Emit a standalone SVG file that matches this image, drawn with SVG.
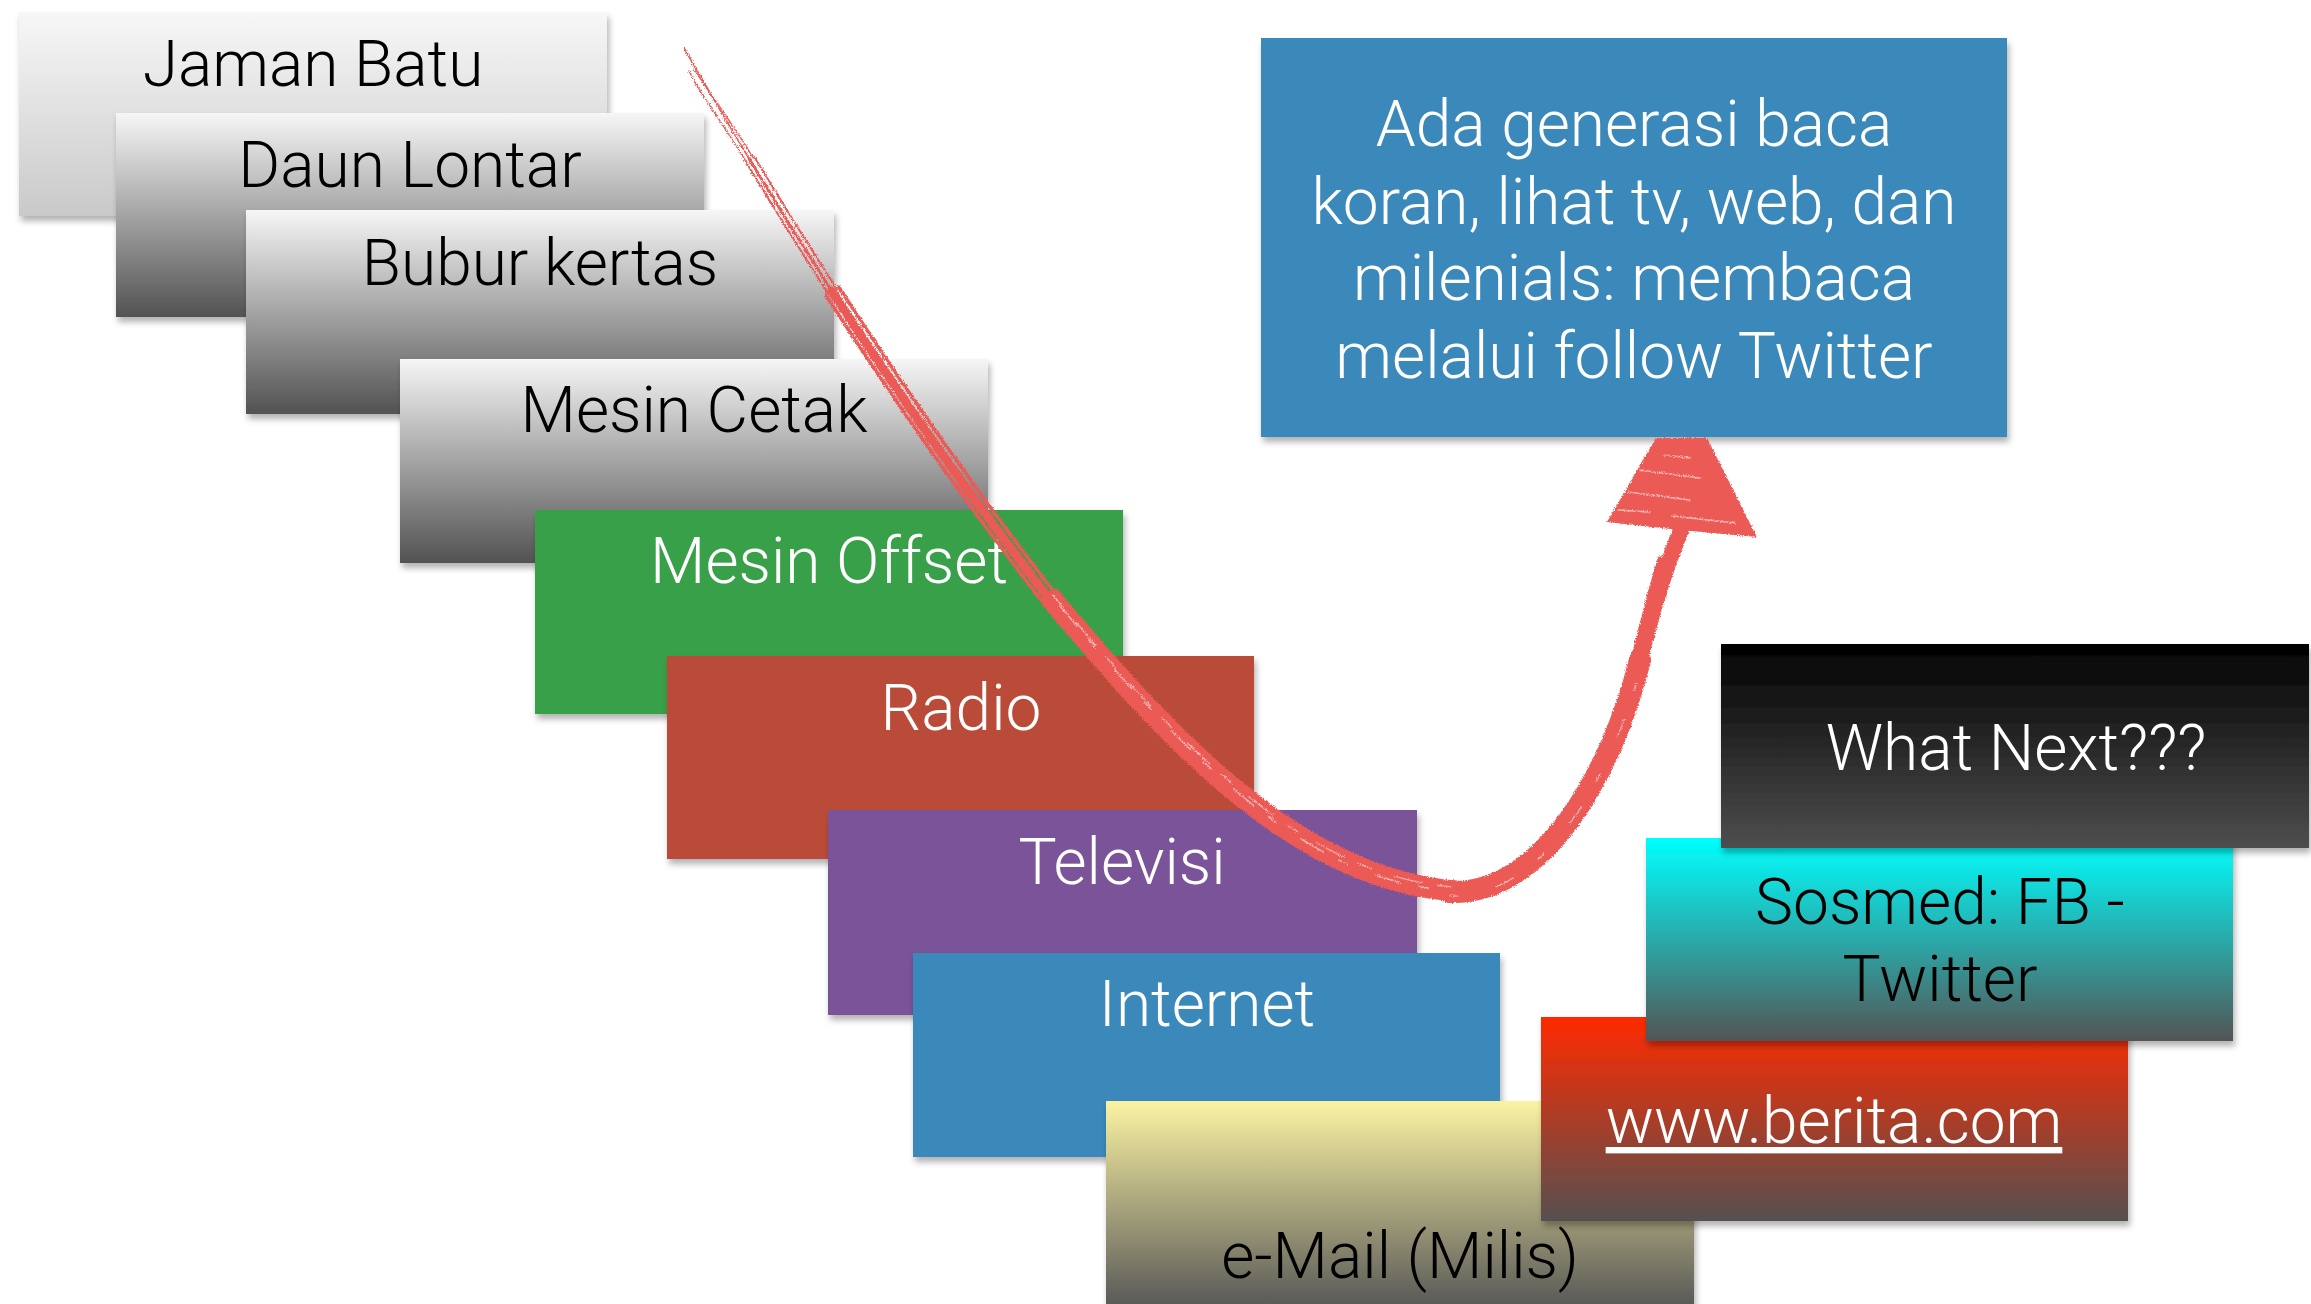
<svg xmlns="http://www.w3.org/2000/svg" width="2311" height="1304" viewBox="0 0 2311 1304">
<defs>
<style>
.lbl{font-family:Roboto,"Liberation Sans",Arial,sans-serif;font-weight:300;font-size:64px;text-anchor:middle}
.dk{fill:#000}
.lt{fill:#fff}
.box{filter:url(#shadow)}
.ink{fill:none;stroke:#eb5a55;stroke-linecap:round;stroke-linejoin:round}
.dry{fill:none;stroke:#fff;stroke-linecap:round;opacity:0.55}
</style>
<filter id="shadow" x="-5%" y="-5%" width="112%" height="115%">
<feDropShadow dx="2" dy="5" stdDeviation="3" flood-color="#000" flood-opacity="0.3"/>
</filter>
<filter id="brush" x="-2%" y="-2%" width="104%" height="104%">
<feTurbulence type="fractalNoise" baseFrequency="0.9" numOctaves="2" seed="3" result="n"/>
<feDisplacementMap in="SourceGraphic" in2="n" scale="4" xChannelSelector="R" yChannelSelector="G"/>
</filter>
<linearGradient id="gLight" x1="0" y1="0" x2="0" y2="1"><stop offset="0" stop-color="#f7f7f7"/><stop offset="1" stop-color="#c9c9c9"/></linearGradient>
<linearGradient id="gGray" x1="0" y1="0" x2="0" y2="1"><stop offset="0" stop-color="#f6f6f6"/><stop offset="1" stop-color="#525252"/></linearGradient>
<linearGradient id="gMail" x1="0" y1="0" x2="0" y2="1"><stop offset="0" stop-color="#fbf3a3"/><stop offset="1" stop-color="#555555"/></linearGradient>
<linearGradient id="gWeb" x1="0" y1="0" x2="0" y2="1"><stop offset="0" stop-color="#ff2a00"/><stop offset="1" stop-color="#565050"/></linearGradient>
<linearGradient id="gSos" x1="0" y1="0" x2="0" y2="1"><stop offset="0" stop-color="#00ffff"/><stop offset="1" stop-color="#545454"/></linearGradient>
<linearGradient id="gNext" x1="0" y1="0" x2="0" y2="1"><stop offset="0" stop-color="#020202"/><stop offset="1" stop-color="#4e4e4e"/></linearGradient>
</defs>
<rect width="2311" height="1304" fill="#fff"/>

<g id="jaman-batu"><rect class="box" x="19" y="12" width="588" height="204" fill="url(#gLight)"/><text class="lbl dk" x="313" y="86">Jaman Batu</text></g>
<g id="daun-lontar"><rect class="box" x="116" y="113" width="588" height="204" fill="url(#gGray)"/><text class="lbl dk" x="410" y="187">Daun Lontar</text></g>
<g id="bubur-kertas"><rect class="box" x="246" y="210" width="588" height="204" fill="url(#gGray)"/><text class="lbl dk" x="540" y="285">Bubur kertas</text></g>
<g id="mesin-cetak"><rect class="box" x="400" y="359" width="588" height="204" fill="url(#gGray)"/><text class="lbl dk" x="694" y="432">Mesin Cetak</text></g>
<g id="mesin-offset"><rect class="box" x="535" y="510" width="588" height="204" fill="#38a049"/><text class="lbl lt" x="829" y="583">Mesin Offset</text></g>
<g id="radio"><rect class="box" x="667" y="656" width="587" height="203" fill="#ba4b37"/><text class="lbl lt" x="961" y="730">Radio</text></g>
<g id="televisi"><rect class="box" x="828" y="810" width="589" height="205" fill="#7a5298"/><text class="lbl lt" x="1122" y="884">Televisi</text></g>
<g id="internet"><rect class="box" x="913" y="953" width="587" height="204" fill="#3a88bb"/><text class="lbl lt" x="1207" y="1026">Internet</text></g>
<g id="email"><rect class="box" x="1106" y="1101" width="588" height="210" fill="url(#gMail)"/><text class="lbl dk" x="1400" y="1278">e-Mail (Milis)</text></g>
<g id="web"><rect class="box" x="1541" y="1017" width="587" height="204" fill="url(#gWeb)"/><text class="lbl lt" x="1834" y="1143" text-decoration="underline">www.berita.com</text></g>
<g id="sosmed"><rect class="box" x="1646" y="838" width="587" height="203" fill="url(#gSos)"/><text class="lbl dk" x="1940" y="924">Sosmed: FB -</text><text class="lbl dk" x="1940" y="1001">Twitter</text></g>
<g id="what-next"><rect class="box" x="1721" y="644" width="588" height="204" fill="url(#gNext)"/><text class="lbl lt" x="2016" y="770">What Next???</text></g>
<g id="generasi"><rect class="box" x="1261" y="38" width="746" height="399" fill="#3a88bb"/>
<text class="lbl lt" x="1634" y="146">Ada generasi baca</text>
<text class="lbl lt" x="1634" y="224">koran, lihat tv, web, dan</text>
<text class="lbl lt" x="1634" y="300">milenials: membaca</text>
<text class="lbl lt" x="1634" y="378">melalui follow Twitter</text></g>

<g id="connectors" filter="url(#brush)">
<path class="ink" stroke-width="1.6" d="M684,48 C703,81 724.75,118.25 749.3,159"/>
<path class="ink" stroke-width="1.4" transform="translate(4,-1)" d="M690,70 C703,91 724.75,118.25 749.3,159"/>
<path class="ink" stroke-width="1.4" transform="translate(-3,3)" d="M692,68 C703,91 724.75,118.25 749.3,159"/>
<path class="ink" stroke-width="3" d="M749.3,159 C773.9,199.75 801.4,244 831.75,291"/>
<path class="ink" stroke-width="2" transform="translate(5,-2)" d="M749.3,159 C773.9,199.75 801.4,244 831.75,291"/>
<path class="ink" stroke-width="2" transform="translate(-4,2)" d="M749.3,159 C773.9,199.75 801.4,244 831.75,291"/>
<path class="ink" stroke-width="9" d="M831.75,291 C892.5,385 965,490 1050,600"/>
<path class="ink" stroke-width="3.5" transform="translate(7,-4)" d="M831.75,291 C892.5,385 965,490 1050,600"/>
<path class="ink" stroke-width="3.5" transform="translate(-6,4)" d="M831.75,291 C892.5,385 965,490 1050,600"/>
<path class="ink" stroke-width="18" d="M1050,600 C1175,750 1300,880 1450,892"/>
<path class="ink" stroke-width="5" transform="translate(6,-9)" d="M1050,600 C1175,750 1300,880 1450,892"/>
<path class="ink" stroke-width="22" d="M1450,892 C1540,895 1610,780 1640,660"/>
<path class="ink" stroke-width="16" d="M1640,660 C1655,600 1668,560 1682,528"/>
<path class="ink" stroke-width="5" transform="translate(-8,4)" d="M1643,648 C1655,600 1662,575 1668,555"/>
<path class="dry" stroke-width="1.5" stroke-dasharray="26 18 10 30" d="M1060,606 C1185,754 1305,882 1450,890"/>
<path class="dry" stroke-width="1.2" stroke-dasharray="14 22 30 16" transform="translate(3,-5)" d="M1050,600 C1175,750 1300,880 1450,892"/>
<path class="dry" stroke-width="1.2" stroke-dasharray="8 40 20 30" d="M1450,896 C1540,899 1612,782 1642,662"/>
<polygon fill="#eb5a55" points="1656,438 1707,438 1757,537 1680,530 1607,522"/>
<path class="dry" stroke-width="1.5" d="M1628,492 L1690,500 M1618,510 L1650,512 M1672,516 L1735,523 M1640,470 L1700,478 M1665,455 L1690,458"/>
</g>
</svg>
